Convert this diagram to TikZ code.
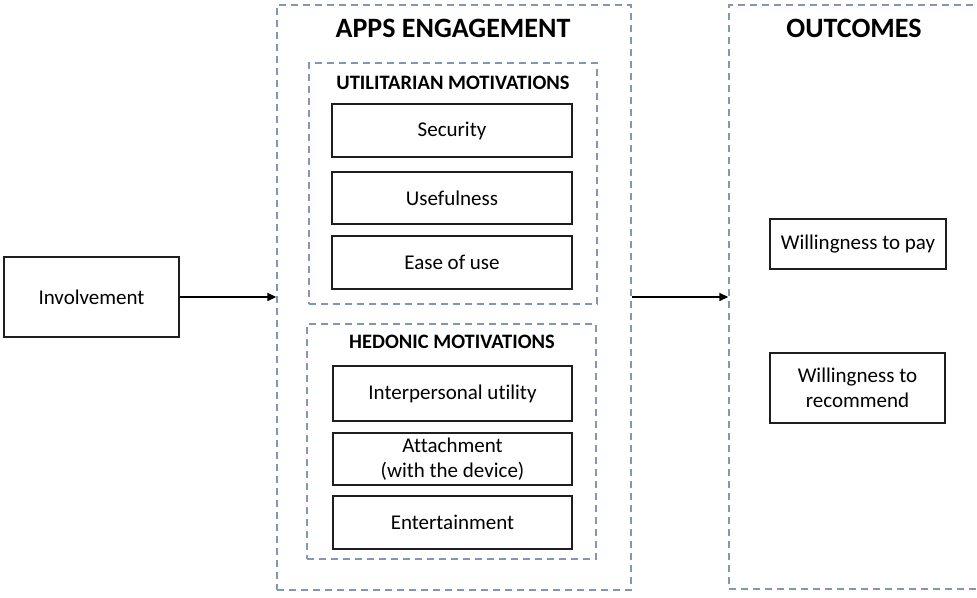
\documentclass[tikz,border=0pt]{standalone}
\usepackage{fontspec}
\setmainfont{Carlito}[Ligatures=NoCommon]
\usetikzlibrary{arrows.meta}
\definecolor{dashgray}{HTML}{8497B0}
\definecolor{boxline}{HTML}{1E1E1E}
\tikzset{
  box/.style={draw=boxline, line width=1.3pt, fill=white, align=center,
    inner sep=0pt, font=\fontsize{21}{25}\selectfont},
  group/.style={draw=dashgray, line width=1.4pt, dash pattern=on 7pt off 5pt,
    inner sep=0pt},
  heading/.style={font=\bfseries\fontsize{28}{32}\selectfont, anchor=base,
    inner sep=0pt},
  subheading/.style={font=\bfseries\fontsize{20.5}{24}\selectfont, anchor=base,
    inner sep=0pt},
  link/.style={draw=black, line width=1.5pt,
    -{Triangle[length=9pt,width=8pt]}},
}
\begin{document}
\begin{tikzpicture}[x=1pt,y=-1pt]
  \useasboundingbox (0,0) rectangle (977,597);
  \clip (0,0) rectangle (977,597);

  % dashed group frames
  \node[group, minimum width=354, minimum height=585] (apps) at (454,297.5) {};
  \node[group, minimum width=288, minimum height=241] (util) at (453,183.5) {};
  \node[group, minimum width=289, minimum height=235] (hed) at (451.5,441.5) {};
  \node[group, minimum width=268, minimum height=584] (out) at (863,297) {};

  % headings
  \node[heading] (appsT) at (453,37) {APPS ENGAGEMENT};
  \node[heading] (outT) at (854,37) {OUTCOMES};
  \node[subheading] (utilT) at (453,89) {UTILITARIAN MOTIVATIONS};
  \node[subheading] (hedT) at (452,348) {HEDONIC MOTIVATIONS};

  % antecedent
  \node[box, minimum width=175, minimum height=80] (inv) at (91.5,297) {Involvement};

  % utilitarian motivations
  \node[box, minimum width=240, minimum height=53] (sec) at (452,130.5) {Security};
  \node[box, minimum width=240, minimum height=52] (use) at (452,198) {Usefulness};
  \node[box, minimum width=240, minimum height=53] (ease) at (452,262.5) {Ease of use};

  % hedonic motivations
  \node[box, minimum width=239, minimum height=55] (inter) at (452.5,393.5) {Interpersonal utility};
  \node[box, minimum width=239, minimum height=52] (att) at (452.5,459) {Attachment\\(with the device)};
  \node[box, minimum width=239, minimum height=53] (ent) at (452.5,522.5) {Entertainment};

  % outcomes
  \node[box, minimum width=176, minimum height=50] (pay) at (858,244) {Willingness to pay};
  \node[box, minimum width=175, minimum height=70] (rec) at (857.5,388) {Willingness to\\recommend};

  % connectors
  \draw[link] (inv.east) -- (inv.east -| apps.west);
  \draw[link] (inv.east -| apps.east) -- (inv.east -| out.west);
\end{tikzpicture}
\end{document}
